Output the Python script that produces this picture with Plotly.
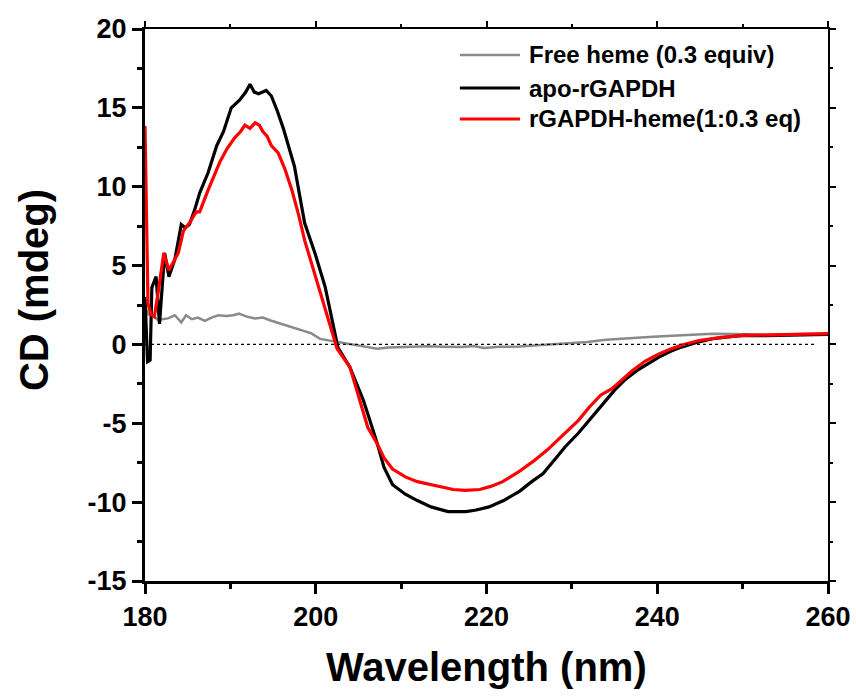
import plotly.graph_objects as go

# ---- data ----
wl_apo = [180.0, 180.3, 180.6, 180.8, 181.3, 181.7, 182.3, 182.8, 183.5, 184.25, 184.7, 185.2, 185.8, 186.4,
          187.4, 188.4, 189.2, 190.1, 191.1, 191.8, 192.3, 192.8, 193.3, 194.2, 194.8, 195.5, 196.2, 197.5,
          198.7, 199.9, 201.1, 202.6, 204.0, 205.6, 207.1, 208.0, 209.0, 210.5, 211.9, 213.5, 215.5, 216.5,
          217.6, 218.8, 220.3, 222.0, 223.9, 225.3, 226.6, 228.0, 229.2, 230.8, 232.3, 233.6, 235.0, 236.3,
          237.6, 239.0, 240.2, 241.5, 242.8, 244.6, 246.5, 248.3, 250.1, 252.7, 255.4, 257.7, 260.0]
cd_apo = [3.0, -1.1, -1.0, 3.6, 4.3, 1.3, 5.8, 4.3, 5.4, 7.6, 7.4, 7.6, 8.5, 9.6,
          10.9, 12.6, 13.5, 15.0, 15.5, 16.0, 16.5, 16.0, 15.9, 16.1, 15.75, 14.8, 13.7, 11.3,
          7.7, 5.8, 3.65, -0.2, -1.44, -3.57, -6.1, -7.8, -8.9, -9.5, -9.9, -10.3, -10.6, -10.6,
          -10.6, -10.5, -10.3, -9.9, -9.3, -8.7, -8.2, -7.3, -6.5, -5.6, -4.6, -3.8, -2.9, -2.2,
          -1.66, -1.2, -0.8, -0.45, -0.17, 0.12, 0.36, 0.47, 0.57, 0.55, 0.57, 0.6, 0.64]

wl_heme = [180.0, 180.35, 180.7, 181.1, 181.6, 182.2, 182.8, 183.4, 183.9, 184.5, 185.2, 186.0, 186.4, 187.4,
           188.8, 189.6, 190.5, 191.2, 191.7, 192.3, 192.9, 193.4, 193.8, 194.3, 194.8, 195.6, 196.4, 197.2,
           198.0, 198.7, 199.9, 201.1, 202.5, 204.0, 205.0, 206.1, 207.2, 208.0, 209.0, 210.5, 211.9, 213.5,
           214.8, 216.1, 217.5, 219.2, 220.5, 221.9, 223.7, 225.5, 227.1, 228.7, 230.8, 232.0, 233.4, 234.7,
           235.9, 237.1, 238.6, 240.2, 241.5, 242.8, 244.9, 247.5, 250.1, 252.7, 255.4, 257.7, 260.0]
cd_heme = [13.85, 2.6, 1.9, 1.75, 3.5, 5.8, 4.7, 5.3, 5.8, 7.2, 7.7, 8.4, 8.4, 9.8,
           11.6, 12.4, 13.1, 13.5, 13.9, 13.7, 14.05, 13.9, 13.5, 13.2, 12.6, 12.15, 11.1, 9.8,
           8.2, 6.6, 4.4, 2.2, -0.27, -1.44, -3.2, -5.27, -6.3, -7.2, -7.9, -8.4, -8.7, -8.9,
           -9.05, -9.2, -9.25, -9.2, -9.0, -8.7, -8.1, -7.4, -6.7, -5.9, -4.8, -4.0, -3.2, -2.8,
           -2.2, -1.66, -1.05, -0.6, -0.3, -0.06, 0.25, 0.45, 0.57, 0.6, 0.62, 0.63, 0.68]

wl_free = [180.0, 180.4, 180.75, 181.5, 182.0, 182.7, 183.5, 184.25, 184.8, 185.5, 186.2, 187.0, 187.8, 188.6,
           189.5, 190.3, 191.0, 192.0, 192.9, 193.8, 194.8, 196.2, 197.6, 199.5, 200.5, 202.2, 203.5, 205.0,
           206.5, 207.2, 208.5, 210.8, 213.0, 215.0, 217.1, 218.5, 219.7, 221.5, 223.9, 226.0, 229.2, 231.8,
           234.0, 237.0, 239.5, 242.3, 244.5, 246.5, 249.0, 252.8, 256.0, 260.0]
cd_free = [2.4, 1.9, 1.95, 1.55, 1.6, 1.65, 1.85, 1.4, 1.85, 1.6, 1.7, 1.5, 1.7, 1.85,
           1.8, 1.85, 1.95, 1.75, 1.65, 1.7, 1.5, 1.25, 1.0, 0.7, 0.35, 0.2, 0.05, -0.05,
           -0.2, -0.28, -0.2, -0.17, -0.12, -0.15, -0.17, -0.1, -0.23, -0.15, -0.13, -0.05, 0.04, 0.15,
           0.3, 0.42, 0.48, 0.57, 0.62, 0.68, 0.66, 0.62, 0.65, 0.68]

zero_x = [180.0, 258.5]
zero_y = [0.0, 0.0]

x_ticks = [180, 200, 220, 240, 260]
x_ticktext = ["180", "200", "220", "240", "260"]
y_ticks = [-15, -10, -5, 0, 5, 10, 15, 20]
y_ticktext = ["-15", "-10", "-5", "0", "5", "10", "15", "20"]
x_range = [180, 260]
y_range = [-15, 20]

series_names = ["Free heme (0.3 equiv)", "apo-rGAPDH", "rGAPDH-heme(1:0.3 eq)"]
series_colors = ["#8a8a8a", "#000000", "#ff0000"]
series_widths = [2.5, 3.2, 3.2]

FONT = "Liberation Sans, Arial, sans-serif"

fig = go.Figure()
fig.add_trace(go.Scatter(x=zero_x, y=zero_y, mode="lines", showlegend=False, xaxis="x2", yaxis="y2",
                         line=dict(color="black", width=1.2, dash="dot"), hoverinfo="skip"))
for xs, ys, nm, col, w in zip([wl_free, wl_apo, wl_heme], [cd_free, cd_apo, cd_heme],
                              series_names, series_colors, series_widths):
    fig.add_trace(go.Scatter(x=xs, y=ys, mode="lines", name=nm, showlegend=False,
                             line=dict(color=col, width=w)))

tickfont = dict(family=FONT, size=27, color="black", weight="bold")
main_axis = dict(showline=True, linecolor="black", linewidth=3, mirror=False, automargin=False,
                 ticks="outside", tickwidth=3, ticklen=10, tickcolor="black",
                 showgrid=False, zeroline=False, tickfont=tickfont)
frame_axis = dict(showline=True, linecolor="black", linewidth=2, ticks="outside", tickwidth=2,
                  ticklen=6, tickcolor="black", showgrid=False, zeroline=False, showticklabels=False,
                  automargin=False)

fig.update_layout(
    width=856, height=696,
    margin=dict(l=145, r=28, t=29, b=115, autoexpand=False),
    paper_bgcolor="white", plot_bgcolor="white",
    font=dict(family=FONT, color="black"),
    showlegend=False,
    xaxis=dict(range=x_range, tickvals=x_ticks, ticktext=x_ticktext,
               minor=dict(dtick=10, ticks="outside", ticklen=5, tickwidth=3, tickcolor="black"),
               **main_axis),
    yaxis=dict(range=y_range, tickvals=y_ticks, ticktext=y_ticktext,
               minor=dict(dtick=2.5, ticks="outside", ticklen=5, tickwidth=3, tickcolor="black"),
               **main_axis),
    xaxis2=dict(range=x_range, tickvals=x_ticks, overlaying="x", side="top", anchor="y2",
                minor=dict(dtick=10, ticks="outside", ticklen=3, tickwidth=2, tickcolor="black"),
                **frame_axis),
    yaxis2=dict(range=y_range, tickvals=y_ticks, overlaying="y", side="right", anchor="x2",
                minor=dict(dtick=2.5, ticks="outside", ticklen=3, tickwidth=2, tickcolor="black"),
                **frame_axis),
)

# axis titles
fig.add_annotation(text="<b>Wavelength (nm)</b>", xref="paper", yref="paper", x=0.5, y=-0.155,
                   xanchor="center", yanchor="middle", showarrow=False,
                   font=dict(family=FONT, size=40, color="black"))
fig.add_annotation(text="<b>CD (mdeg)</b>", xref="paper", yref="paper", x=-0.1625, y=0.527,
                   xanchor="center", yanchor="middle", textangle=-90, showarrow=False,
                   font=dict(family=FONT, size=40, color="black"))

# legend (drawn as a key in the upper right)
leg_x0, leg_x1, leg_tx = 0.461, 0.549, 0.559
leg_rows = [0.9529, 0.8931, 0.837]
for nm, col, w, yy in zip(series_names, series_colors, series_widths, leg_rows):
    fig.add_shape(type="line", xref="paper", yref="paper", x0=leg_x0, x1=leg_x1, y0=yy, y1=yy,
                  line=dict(color=col, width=w))
    fig.add_annotation(text="<b>" + nm + "</b>", xref="paper", yref="paper", x=leg_tx, y=yy,
                       xanchor="left", yanchor="middle", showarrow=False,
                       font=dict(family=FONT, size=24, color="black"))

fig.write_html("out.html")
